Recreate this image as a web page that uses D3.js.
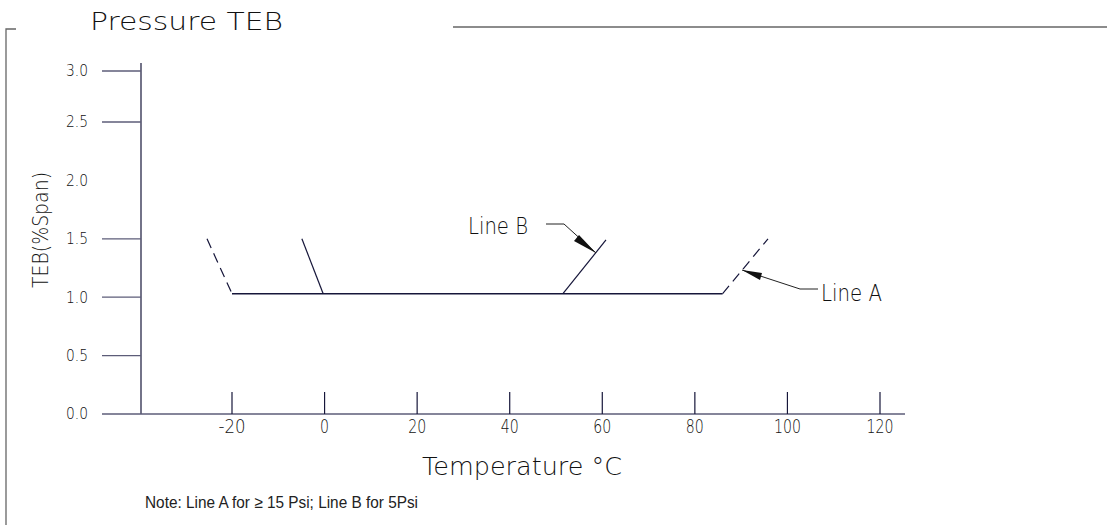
<!DOCTYPE html>
<html><head><meta charset="utf-8">
<script src="https://cdn.jsdelivr.net/npm/d3@7"></script>
<style>body{margin:0;background:#fff}svg{display:block}</style>
</head><body>
<svg id="c" width="1107" height="525"></svg>
<script>
// ---- data ----
const xTicks = [-20, 0, 20, 40, 60, 80, 100, 120];
const yTicks = [0.0, 0.5, 1.0, 1.5, 2.0, 2.5, 3.0];
const yTickMarks = [0.0, 0.5, 1.0, 1.5, 2.5, 3.0];
const baseline = [[-20, 1.03], [86, 1.03]];
const lineALeft = [[-25.4, 1.5], [-20, 1.03]];
const lineARight = [[86, 1.03], [95.8, 1.5]];
const lineBLeft = [[-4.9, 1.5], [-0.3, 1.03]];
const lineBRight = [[51.5, 1.03], [60.8, 1.49]];
const title = "Pressure TEB";
const xTitle = "Temperature °C";
const yTitle = "TEB(%Span)";
const note = "Note: Line A for ≥ 15 Psi; Line B for 5Psi";

const svg = d3.select("#c");
const cad = "'DejaVu Sans', sans-serif";
const x = d3.scaleLinear().domain([-20, 120]).range([232, 880]);
const y = d3.scaleLinear().domain([0, 2.5, 3.0]).range([414, 122, 71]);
const axisCol = "#5c5c78", lineCol = "#16163a";

// frame
svg.append("path").attr("d", "M16,29H6V525").attr("fill", "none").attr("stroke", "#666").attr("stroke-width", 1.3);
svg.append("line").attr("x1", 453).attr("x2", 1107).attr("y1", 27).attr("y2", 27).attr("stroke", "#666").attr("stroke-width", 1.5);

svg.append("text").attr("x", 90).attr("y", 30).attr("font-family", cad).attr("font-weight", 200)
  .attr("font-size", 24).attr("textLength", 193).attr("lengthAdjust", "spacingAndGlyphs").attr("fill", "#111").text(title);

// axes lines
svg.append("line").attr("x1", 141).attr("x2", 141).attr("y1", 63).attr("y2", y(0)).attr("stroke", lineCol).attr("stroke-width", 1.2);
svg.append("line").attr("x1", 141).attr("x2", 905).attr("y1", y(0)).attr("y2", y(0)).attr("stroke", axisCol).attr("stroke-width", 1.5);

// y ticks
svg.selectAll(".yt").data(yTickMarks).join("line").attr("x1", 102).attr("x2", 141)
  .attr("y1", d => y(d)).attr("y2", d => y(d)).attr("stroke", axisCol).attr("stroke-width", 1.3);
svg.selectAll(".yl").data(yTicks).join("text").attr("x", 88).attr("y", d => y(d)).attr("dy", "0.36em")
  .attr("text-anchor", "end").attr("font-family", cad).attr("font-weight", 200).attr("font-size", 15)
  .attr("textLength", 22).attr("lengthAdjust", "spacingAndGlyphs").attr("fill", "#111").text(d => d.toFixed(1));

// x ticks
svg.selectAll(".xt").data(xTicks).join("line").attr("x1", d => x(d)).attr("x2", d => x(d))
  .attr("y1", 392).attr("y2", y(0)).attr("stroke", lineCol).attr("stroke-width", 1.2);
svg.selectAll(".xl").data(xTicks).join("text").attr("x", d => x(d)).attr("y", 433)
  .attr("text-anchor", "middle").attr("font-family", cad).attr("font-weight", 200).attr("font-size", 20)
  .attr("textLength", d => String(d).length * 9).attr("lengthAdjust", "spacingAndGlyphs").attr("fill", "#111").text(d => String(d));

// titles
svg.append("text").attr("x", 522).attr("y", 475).attr("text-anchor", "middle").attr("font-family", cad).attr("font-weight", 200)
  .attr("font-size", 25).attr("textLength", 200).attr("lengthAdjust", "spacingAndGlyphs").attr("fill", "#111").text(xTitle);
svg.append("text").attr("transform", "translate(48,230) rotate(-90)").attr("text-anchor", "middle").attr("font-family", cad).attr("font-weight", 200)
  .attr("font-size", 22).attr("textLength", 116).attr("lengthAdjust", "spacingAndGlyphs").attr("fill", "#111").text(yTitle);

// data lines
const gen = d3.line().x(d => x(d[0])).y(d => y(d[1]));
svg.append("path").attr("d", gen(baseline)).attr("fill", "none").attr("stroke", lineCol).attr("stroke-width", 1.4);
[lineALeft, lineARight].forEach(p => svg.append("path").attr("d", gen(p)).attr("fill", "none")
  .attr("stroke", lineCol).attr("stroke-width", 1.2).attr("stroke-dasharray", "10,6"));
[lineBLeft, lineBRight].forEach(p => svg.append("path").attr("d", gen(p)).attr("fill", "none")
  .attr("stroke", lineCol).attr("stroke-width", 1.2));

// Line B callout
svg.append("text").attr("x", 468).attr("y", 234).attr("font-family", cad).attr("font-weight", 200).attr("font-size", 23)
  .attr("textLength", 60).attr("lengthAdjust", "spacingAndGlyphs").attr("fill", "#111").text("Line B");
svg.append("path").attr("d", "M546,224H564L596,253").attr("fill", "none").attr("stroke", "#222").attr("stroke-width", 1);
svg.append("path").attr("d", "M596,253L574,241L579,235Z").attr("fill", "#111");

// Line A callout
svg.append("text").attr("x", 821).attr("y", 301).attr("font-family", cad).attr("font-weight", 200).attr("font-size", 23)
  .attr("textLength", 61).attr("lengthAdjust", "spacingAndGlyphs").attr("fill", "#111").text("Line A");
svg.append("path").attr("d", "M818,289H800L742,270").attr("fill", "none").attr("stroke", "#222").attr("stroke-width", 1);
svg.append("path").attr("d", "M742,270L762,273L760,280Z").attr("fill", "#111");

// note
svg.append("text").attr("x", 145).attr("y", 508).attr("font-family", "'Liberation Sans', Arial, sans-serif")
  .attr("font-size", 16.5).attr("textLength", 273).attr("lengthAdjust", "spacingAndGlyphs").attr("fill", "#222").text(note);
</script>
</body></html>
